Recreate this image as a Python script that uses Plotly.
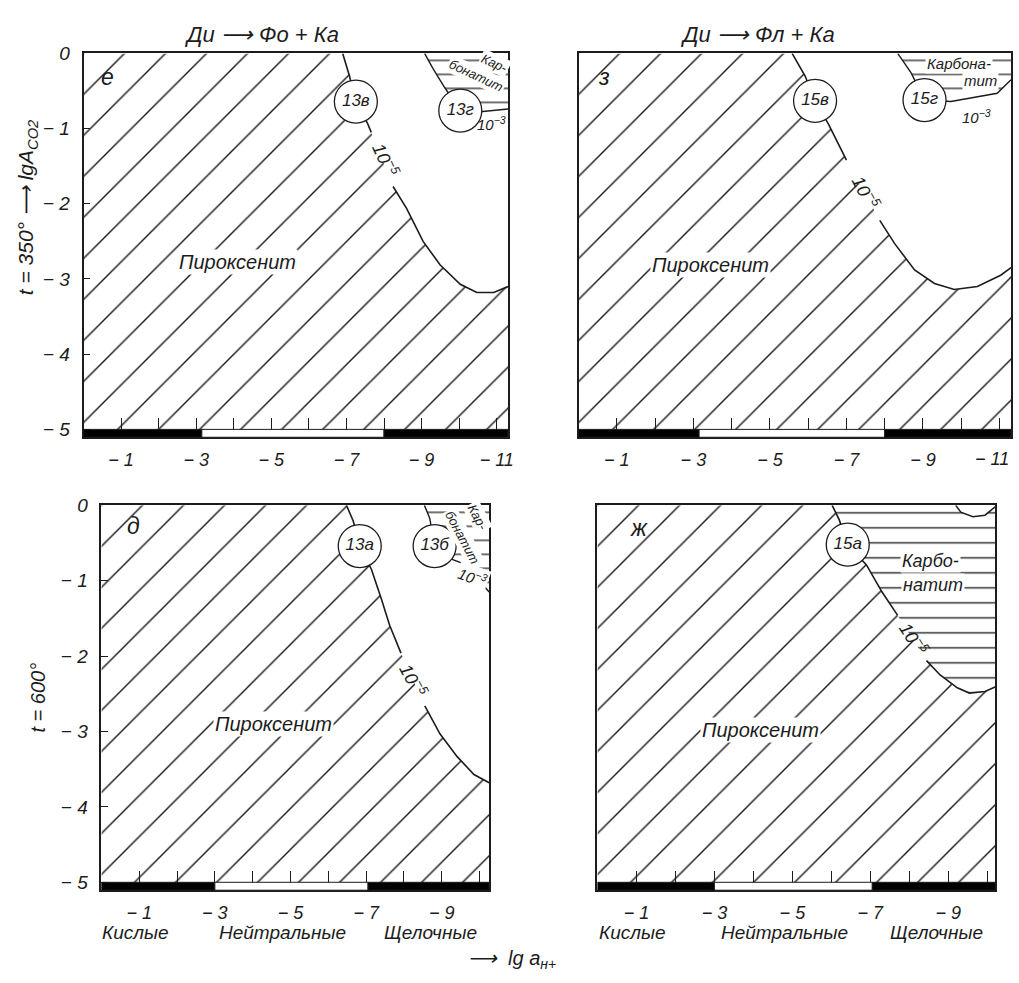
import plotly.graph_objects as go

# ---------------- values ----------------
# abscissa: lg a(H+) ; ordinate: lg A(CO2)
x_tick_vals = [-1, -2, -3, -4, -5, -6, -7, -8, -9, -10, -11]
x_tick_text = ["− 1", "", "− 3", "", "− 5", "", "− 7", "", "− 9", "", "− 11"]
y_tick_vals = [0, -1, -2, -3, -4, -5]
y_tick_text = ["0", "− 1", "− 2", "− 3", "− 4", "− 5"]

# acid | neutral | alkaline bar along lg a(H+)
bar_edges_350 = [0.0, -3.15, -8.0, -11.3]
bar_edges_600 = [0.0, -3.0, -7.05, -10.25]
bar_fill = ["black", "white", "black"]
zone_names = ["Кислые", "Нейтральные", "Щелочные"]
zone_centers = [-0.9, -4.8, -8.7]

# panel "е": t = 350°, Ди -> Фо + Ка
e_curve_x = [-6.90, -7.08, -7.25, -7.57, -7.66, -8.24, -8.60, -9.04, -9.49, -10.03, -10.47, -10.92, -11.30]
e_curve_y = [0.00, -0.30, -0.64, -0.94, -1.05, -1.77, -2.06, -2.50, -2.81, -3.07, -3.18, -3.18, -3.10]
e_curve_gap = 5
e_carb_x = [-9.08, -9.30, -9.61, -10.03, -10.50, -11.30]
e_carb_y = [0.00, -0.20, -0.45, -0.76, -0.78, -0.74]
e_nodes_x = [-7.25, -10.03]
e_nodes_y = [-0.64, -0.76]
e_nodes_text = ["13в", "13г"]

# panel "з": t = 350°, Ди -> Фл + Ка
z_curve_x = [-5.58, -5.92, -6.18, -6.53, -7.00, -7.87, -8.26, -8.78, -9.30, -9.82, -10.42, -11.03, -11.30]
z_curve_y = [0.00, -0.30, -0.63, -0.94, -1.42, -2.22, -2.53, -2.88, -3.06, -3.14, -3.10, -2.95, -2.85]
z_curve_gap = 5
z_carb_x = [-8.34, -8.69, -9.04, -9.73, -10.94, -11.30]
z_carb_y = [0.00, -0.26, -0.62, -0.64, -0.53, -0.35]
z_nodes_x = [-6.18, -9.04]
z_nodes_y = [-0.63, -0.62]
z_nodes_text = ["15в", "15г"]

# panel "д": t = 600°, Ди -> Фо + Ка
d_curve_x = [-6.48, -6.66, -6.83, -7.14, -7.40, -7.62, -7.92, -8.55, -8.95, -9.40, -9.85, -10.25]
d_curve_y = [0.00, -0.21, -0.54, -0.85, -1.24, -1.59, -1.96, -2.66, -3.03, -3.33, -3.57, -3.68]
d_curve_gap = 7
d_carb_x = [-8.54, -8.68, -8.81, -9.29, -9.70, -10.00, -10.25]
d_carb_y = [0.00, -0.17, -0.54, -0.72, -0.80, -1.00, -1.15]
d_nodes_x = [-6.83, -8.81]
d_nodes_y = [-0.54, -0.54]
d_nodes_text = ["13а", "13б"]

# panel "ж": t = 600°, Ди -> Фл + Ка
zh_curve_x = [-6.02, -6.20, -6.42, -6.90, -7.30, -7.70, -8.44, -8.79, -9.23, -9.54, -9.94, -10.20]
zh_curve_y = [0.00, -0.19, -0.52, -0.79, -1.15, -1.46, -2.06, -2.25, -2.42, -2.49, -2.47, -2.41]
zh_curve_gap = 6
zh_cap_x = [-9.19, -9.32, -9.63, -9.94, -10.20]
zh_cap_y = [0.00, -0.09, -0.15, -0.13, -0.02]
zh_nodes_x = [-6.42]
zh_nodes_y = [-0.52]
zh_nodes_text = ["15а"]

# ---------------- styling ----------------
W, H = 1019, 983
INK = "#1c1c1c"
FONT = "Liberation Sans"
YBOT = -5.105


def fnt(size):
    return dict(family=FONT, size=size, color=INK, style="italic")


def px_dom(a, b, total):
    return [a / total, b / total]


def py_dom(top, bottom):
    return [1 - bottom / H, 1 - top / H]


panels = [
    dict(key="e", letter="е", xpx=(84, 511), ypx=(44, 433), xmax=-11.3, edges=bar_edges_350,
         curve=(e_curve_x, e_curve_y, e_curve_gap), carb=(e_carb_x, e_carb_y),
         nodes=(e_nodes_x, e_nodes_y, e_nodes_text), left=True, bottom_names=False,
         last_label=True,
         letter_xy=(-0.65, -0.32), pyr_xy=(-4.1, -2.78), lab5=(-8.05, -1.42, 65)),
    dict(key="z", letter="з", xpx=(582, 1017), ypx=(44, 433), xmax=-11.3, edges=bar_edges_350,
         curve=(z_curve_x, z_curve_y, z_curve_gap), carb=(z_carb_x, z_carb_y),
         nodes=(z_nodes_x, z_nodes_y, z_nodes_text), left=False, bottom_names=False,
         last_label=False,
         letter_xy=(-0.67, -0.32), pyr_xy=(-3.45, -2.81), lab5=(-7.5, -1.85, 62)),
    dict(key="d", letter="д", xpx=(102, 492), ypx=(502, 892), xmax=-10.25, edges=bar_edges_600,
         curve=(d_curve_x, d_curve_y, d_curve_gap), carb=(d_carb_x, d_carb_y),
         nodes=(d_nodes_x, d_nodes_y, d_nodes_text), left=True, bottom_names=True,
         last_label=True,
         letter_xy=(-0.84, -0.28), pyr_xy=(-4.55, -2.9), lab5=(-8.25, -2.32, 62)),
    dict(key="zh", letter="ж", xpx=(601, 1001), ypx=(502, 892), xmax=-10.2, edges=bar_edges_600,
         curve=(zh_curve_x, zh_curve_y, zh_curve_gap), carb=None,
         nodes=(zh_nodes_x, zh_nodes_y, zh_nodes_text), left=False, bottom_names=True,
         last_label=True,
         letter_xy=(-1.07, -0.3), pyr_xy=(-4.17, -2.98), lab5=(-8.1, -1.77, 58)),
]

fig = go.Figure()
shapes = []
annotations = []
layout = dict(width=W, height=H, margin=dict(l=0, r=0, t=0, b=0),
              paper_bgcolor="white", plot_bgcolor="white", showlegend=False)

hatch_diag = dict(shape="/", size=29, solidity=0.05, fgcolor=INK, bgcolor="white", fillmode="replace")
hatch_horz = dict(shape="-", size=14, solidity=0.09, fgcolor=INK, bgcolor="white", fillmode="replace")

for i, p in enumerate(panels, start=1):
    xa = "x" if i == 1 else f"x{i}"
    ya = "y" if i == 1 else f"y{i}"
    xk = "xaxis" if i == 1 else f"xaxis{i}"
    yk = "yaxis" if i == 1 else f"yaxis{i}"
    cx, cy, gap = p["curve"]
    right = cx[-1]

    # pyroxenite field (diagonal hatching)
    fig.add_trace(go.Scatter(
        x=[0.0] + cx + [right, 0.0], y=[0.0] + cy + [YBOT, YBOT],
        xaxis=xa, yaxis=ya, mode="lines", line=dict(width=0),
        fill="toself", fillcolor="rgba(0,0,0,0)", fillpattern=hatch_diag, hoverinfo="skip"))

    # carbonatite field (horizontal hatching)
    if p["carb"] is not None:
        kx, ky = p["carb"]
        fig.add_trace(go.Scatter(
            x=kx + [kx[-1]], y=ky + [0.0], xaxis=xa, yaxis=ya, mode="lines", line=dict(width=0),
            fill="toself", fillcolor="rgba(0,0,0,0)", fillpattern=hatch_horz, hoverinfo="skip"))
        fig.add_trace(go.Scatter(x=kx, y=ky, xaxis=xa, yaxis=ya, mode="lines",
                                 line=dict(color=INK, width=1.4), hoverinfo="skip"))
    else:
        fig.add_trace(go.Scatter(
            x=cx + zh_cap_x[::-1], y=cy + zh_cap_y[::-1], xaxis=xa, yaxis=ya, mode="lines",
            line=dict(width=0), fill="toself", fillcolor="rgba(0,0,0,0)",
            fillpattern=dict(hatch_horz, size=15), hoverinfo="skip"))
        fig.add_trace(go.Scatter(x=zh_cap_x, y=zh_cap_y, xaxis=xa, yaxis=ya, mode="lines",
                                 line=dict(color=INK, width=1.5), hoverinfo="skip"))

    # 10^-5 boundary, broken where its label sits
    lx = cx[:gap] + [None] + cx[gap:]
    ly = cy[:gap] + [None] + cy[gap:]
    fig.add_trace(go.Scatter(x=lx, y=ly, xaxis=xa, yaxis=ya, mode="lines",
                             line=dict(color=INK, width=1.6), hoverinfo="skip", connectgaps=False))

    # numbered reaction points
    nx, ny, nt = p["nodes"]
    fig.add_trace(go.Scatter(x=nx, y=ny, text=nt, xaxis=xa, yaxis=ya, mode="markers+text",
                             marker=dict(size=43, color="white", line=dict(color=INK, width=1.3)),
                             textposition="middle center", textfont=fnt(17), hoverinfo="skip"))

    # acidity bar
    e = p["edges"]
    for k in range(3):
        shapes.append(dict(type="rect", xref=xa, yref=ya, x0=e[k], x1=e[k + 1], y0=YBOT, y1=-5.0,
                           fillcolor=bar_fill[k], line=dict(color=INK, width=1), layer="above"))

    ttext = list(x_tick_text)
    if not p["last_label"]:
        ttext[-1] = ""

    x0p, x1p = p["xpx"]
    y0p, y1p = p["ypx"]
    layout[xk] = dict(domain=px_dom(x0p, x1p, W), range=[0, p["xmax"]], anchor=ya,
                      tickvals=x_tick_vals, ticktext=ttext, ticks="inside", ticklen=19,
                      tickwidth=1, tickcolor=INK, showline=True, mirror=True, linecolor=INK,
                      linewidth=1.6, showgrid=False, zeroline=False, tickfont=fnt(18),
                      ticklabelstandoff=5, fixedrange=True)
    layout[yk] = dict(domain=py_dom(y0p, y1p), range=[YBOT, 0], anchor=xa,
                      tickvals=y_tick_vals, ticktext=y_tick_text,
                      ticks="inside" if p["left"] else "", ticklen=7, tickwidth=1, tickcolor=INK,
                      showticklabels=p["left"], showline=True, mirror=True, linecolor=INK,
                      linewidth=1.6, showgrid=False, zeroline=False, tickfont=fnt(19),
                      ticklabelstandoff=8, fixedrange=True)

    def ann(x, y, text, size, angle=0, bg=None, xanchor="center", xshift=0):
        d = dict(x=x, y=y, xref=xa, yref=ya, text=text, showarrow=False, font=fnt(size),
                 textangle=angle, xanchor=xanchor, yanchor="middle", borderpad=1, xshift=xshift)
        if bg:
            d["bgcolor"] = bg
        annotations.append(d)

    def ann_below(x, frac, text, size, xshift=0):
        # below the plot frame: y given as a fraction of the subplot height
        annotations.append(dict(x=x, y=frac, xref=xa, yref=f"{ya} domain", text=text,
                                showarrow=False, font=fnt(size), xanchor="center",
                                yanchor="middle", xshift=xshift))

    ann(p["letter_xy"][0], p["letter_xy"][1], p["letter"], 23)
    ann(p["pyr_xy"][0], p["pyr_xy"][1], "Пироксенит", 20, bg="white")
    ann(p["lab5"][0], p["lab5"][1], "10<sup>−5</sup>", 18, angle=p["lab5"][2])

    if p["key"] == "e":
        ann(-10.95, -0.13, "Кар-", 13, angle=25, bg="white")
        ann(-10.45, -0.30, "бонатит", 13, angle=25, bg="white")
        ann(-10.85, -0.93, "10<sup>−3</sup>", 15)
    elif p["key"] == "z":
        ann(-9.95, -0.14, "Карбона-", 15, bg="white")
        ann(-10.5, -0.36, "тит", 15, bg="white")
        ann(-10.4, -0.84, "10<sup>−3</sup>", 15)
        # last tick label, nudged so it stays inside the page
        ann_below(-11.0, -0.057, "− 11", 18, xshift=-8)
    elif p["key"] == "d":
        ann(-9.95, -0.16, "Кар-", 13, angle=62, bg="white")
        ann(-9.55, -0.42, "бонатит", 13, angle=62, bg="white")
        ann(-9.8, -0.95, "10<sup>−3</sup>", 15, angle=20, bg="white")
    else:
        ann(-8.55, -0.74, "Карбо-", 18, bg="white")
        ann(-8.6, -1.05, "натит", 18, bg="white")

    if p["bottom_names"]:
        for name, xc in zip(zone_names, zone_centers):
            ann_below(xc, -0.11, name, 19)


def pann(px, py, text, size, angle=0):
    annotations.append(dict(x=px / W, y=1 - py / H, xref="paper", yref="paper", text=text,
                            showarrow=False, font=fnt(size), textangle=angle,
                            xanchor="center", yanchor="middle"))


# titles and axis titles
pann(263, 25, "Ди ⟶ Фо + Ка", 22)
pann(762, 25, "Ди ⟶ Фл + Ка", 22)
pann(28, 200, "t = 350° ⟶ lgA<sub>CO2</sub>", 21, angle=-90)
pann(38, 697, "t = 600°", 20, angle=-90)
pann(515, 962, "⟶  lg a<sub>н+</sub>", 20)

layout["shapes"] = shapes
layout["annotations"] = annotations
fig.update_layout(**layout)

pin_script = (
    "var gd=document.getElementById('{plot_id}');"
    "gd.style.position='fixed';gd.style.top='0px';gd.style.left='0px';"
    "document.documentElement.style.margin='0px';document.body.style.margin='0px';"
    "document.documentElement.style.overflow='hidden';document.body.style.overflow='hidden';"
)
fig.write_html("out.html", config={"displayModeBar": False}, post_script=pin_script)
